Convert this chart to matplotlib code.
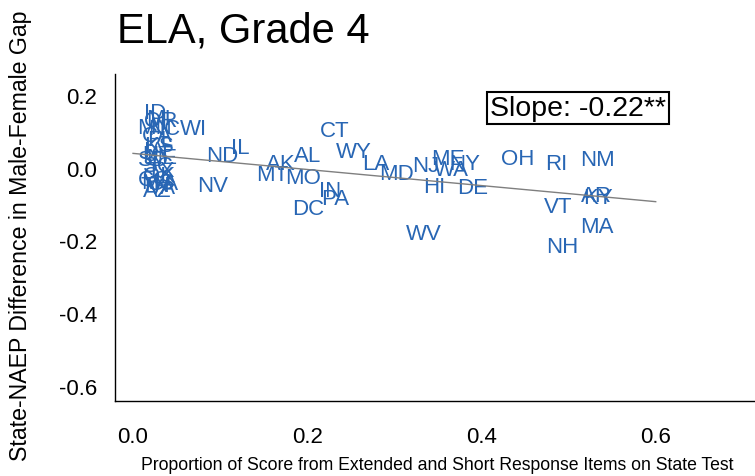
import matplotlib
matplotlib.use("Agg")
import matplotlib.pyplot as plt

plt.rcParams["font.family"] = ["Liberation Sans", "DejaVu Sans"]

# state labels and their positions (proportion of open-response score, gap difference)
states = [
    "CT", "WY", "AL", "AK", "MT", "MO", "IN", "PA", "DC", "LA",
    "MD", "NJ", "ME", "WA", "NY", "HI", "DE", "WV", "OH", "RI",
    "NM", "VT", "AR", "KY", "MA", "NH", "WI", "IL", "ND", "NV",
    "ID", "MI", "OR", "MN", "NC", "CA", "FL", "KS", "IA", "UT",
    "NE", "SD", "SC", "TX", "OK", "CO", "MS", "GA", "TN", "VA", "AZ",
]
prop_open = [
    0.231, 0.254, 0.200, 0.170, 0.160, 0.195, 0.226, 0.232, 0.201, 0.279,
    0.303, 0.336, 0.362, 0.366, 0.381, 0.346, 0.390, 0.334, 0.442, 0.486,
    0.533, 0.488, 0.532, 0.534, 0.533, 0.493, 0.069, 0.123, 0.102, 0.091,
    0.025, 0.029, 0.032, 0.025, 0.036, 0.028, 0.031, 0.030, 0.025, 0.028,
    0.033, 0.024, 0.029, 0.032, 0.030, 0.025, 0.029, 0.034, 0.026, 0.033, 0.028,
]
gap_diff = [
    0.103, 0.045, 0.034, 0.010, -0.018, -0.026, -0.062, -0.084, -0.111, 0.010,
    -0.015, 0.007, 0.026, -0.004, 0.012, -0.051, -0.056, -0.180, 0.026, 0.012,
    0.021, -0.106, -0.078, -0.081, -0.161, -0.216, 0.106, 0.056, 0.032, -0.048,
    0.152, 0.136, 0.130, 0.111, 0.108, 0.089, 0.076, 0.062, 0.048, 0.037,
    0.029, 0.021, 0.007, -0.007, -0.021, -0.032, -0.040, -0.043, -0.048, -0.054, -0.062,
]

# fitted line
fit_x = [0.0, 0.6]
intercept = 0.039
slope = -0.221
slope_label = "Slope: -0.22**"

x_ticks = [0.0, 0.2, 0.4, 0.6]
y_ticks = [0.2, 0.0, -0.2, -0.4, -0.6]

W, H = 755, 477
fig = plt.figure(figsize=(W / 100, H / 100), dpi=100)
ax = fig.add_axes([115 / W, 1 - 402 / H, 1 - 115 / W, (402 - 75) / H])

label_color = "#2866b4"
for s, x, y in zip(states, prop_open, gap_diff):
    ax.text(x, y, s, color=label_color, fontsize=16, ha="center", va="center", zorder=2)

ax.plot(fit_x, [intercept + slope * v for v in fit_x], color="#7f7f7f", lw=1.0, zorder=3)

ax.text(0.511, 0.163, slope_label, fontsize=20.5, ha="center", va="center",
        bbox=dict(boxstyle="square,pad=0.1", facecolor="white", edgecolor="black", lw=1.5),
        zorder=4)

ax.set_xlim(-0.0207, 0.714)
ax.set_ylim(-0.641, 0.257)
ax.set_xticks(x_ticks)
ax.set_xticklabels([f"{v:.1f}" for v in x_ticks])
ax.set_yticks(y_ticks)
ax.set_yticklabels([f"{v:.1f}" for v in y_ticks])
ax.tick_params(axis="both", length=0, labelsize=16, colors="black")
ax.tick_params(axis="x", pad=18)
ax.tick_params(axis="y", pad=13)

for side in ("top", "right"):
    ax.spines[side].set_visible(False)
for side in ("left", "bottom"):
    ax.spines[side].set_color("black")
    ax.spines[side].set_linewidth(1.0)

fig.text(117 / W, 1 - 42 / H, "ELA, Grade 4", fontsize=30, ha="left", va="baseline")
fig.text(437 / W, 1 - 466 / H,
         "Proportion of Score from Extended and Short Response Items on State Test",
         fontsize=12.7, ha="center", va="center")
fig.text(21 / W, 1 - 236 / H, "State-NAEP Difference in Male-Female Gap",
         fontsize=16.7, rotation=90, ha="center", va="center")

fig.savefig("out.png", facecolor="white")
